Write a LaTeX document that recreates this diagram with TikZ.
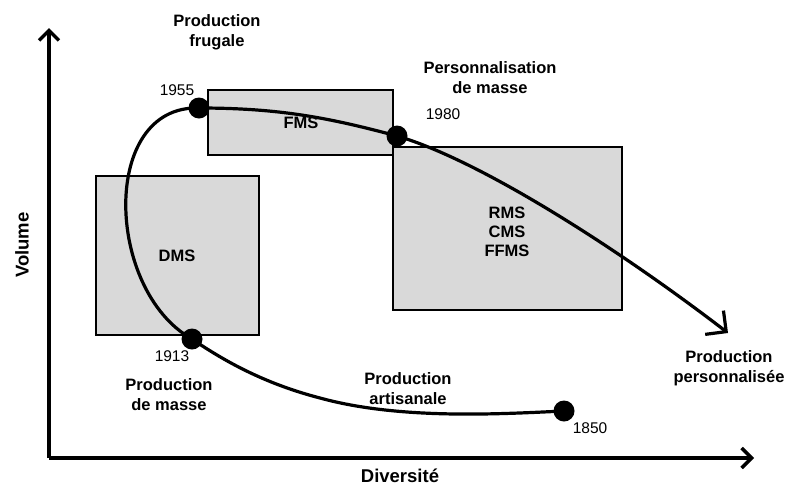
\documentclass[tikz,border=0pt]{standalone}
\usepackage{fontspec}
\setmainfont{Liberation Sans}
\usetikzlibrary{arrows.meta}
\definecolor{boxgray}{HTML}{D9D9D9}
\tikzset{
  boxst/.style={draw=black, line width=2.4pt, fill=boxgray},
  lbl/.style={font=\bfseries\fontsize{16.5}{20}\selectfont, align=center, text=black},
  yr/.style={font=\fontsize{15.5}{18}\selectfont},
  dotst/.style={circle, fill=black, inner sep=0pt, minimum size=21pt},
  axis/.style={line width=3.6pt, -{Straight Barb[length=10pt,width=20pt,line width=3.4pt]}},
  curvest/.style={line width=3.2pt}
}
\begin{document}
\begin{tikzpicture}[x=1pt,y=-1pt]
\useasboundingbox (0,0) rectangle (787,488);
% boxes
\draw[boxst] (96,176) rectangle (259,335);
\draw[boxst] (208,90) rectangle (393,155);
\draw[boxst] (393,147) rectangle (622,310);
\node[lbl] (dms) at (177,256) {DMS};
\node[lbl] (fms) at (301,123) {FMS};
\node[lbl, font=\bfseries\fontsize{16.5}{19}\selectfont] (rms) at (507,232) {RMS\\CMS\\FFMS};
% axes
\coordinate (o) at (49,458);
\coordinate (ytip) at (49,28);
\coordinate (xtip) at (754,458);
\draw[axis] (o) -- (ytip);
\draw[axis] (o) -- (xtip);
% dots positions
\coordinate (p1850) at (564,411);
\coordinate (p1913) at (192,339);
\coordinate (p1955) at (199,108);
\coordinate (p1980) at (397,136);
\coordinate (tip) at (728,333);
% curve
\draw[curvest, -{Straight Barb[length=15pt,width=30pt,line width=3.2pt]}]
  (p1850) .. controls (500,414) and (400,420) .. (320,398)
  .. controls (270,385) and (230,365) .. (p1913)
  .. controls (105,290) and (100,105) .. (p1955)
  .. controls (280,108) and (330,118) .. (p1980)
  .. controls (480,160) and (620,250) .. (tip);
\node[dotst] (d1850) at (p1850) {};
\node[dotst] (d1913) at (p1913) {};
\node[dotst] (d1955) at (p1955) {};
\node[dotst] (d1980) at (p1980) {};
% year labels
\node[yr] (y1955) at (177,90) {1955};
\node[yr] (y1980) at (443,114) {1980};
\node[yr] (y1913) at (172,356) {1913};
\node[yr] (y1850) at (590,428) {1850};
% phase labels
\node[lbl] (frugale) at (217,32) {Production\\frugale};
\node[lbl] (perso) at (490,78) {Personnalisation\\de masse};
\node[lbl] (masse) at (169,395) {Production\\de masse};
\node[lbl] (artisan) at (408,389) {Production\\artisanale};
\node[lbl] (persprod) at (729,368) {Production\\personnalisée};
% axis labels
\node[lbl, rotate=90, font=\bfseries\fontsize{18.5}{20}\selectfont] (vol) at (22,245) {Volume};
\node[lbl, font=\bfseries\fontsize{18.5}{20}\selectfont] (div) at (400,476) {Diversité};
\end{tikzpicture}
\end{document}
